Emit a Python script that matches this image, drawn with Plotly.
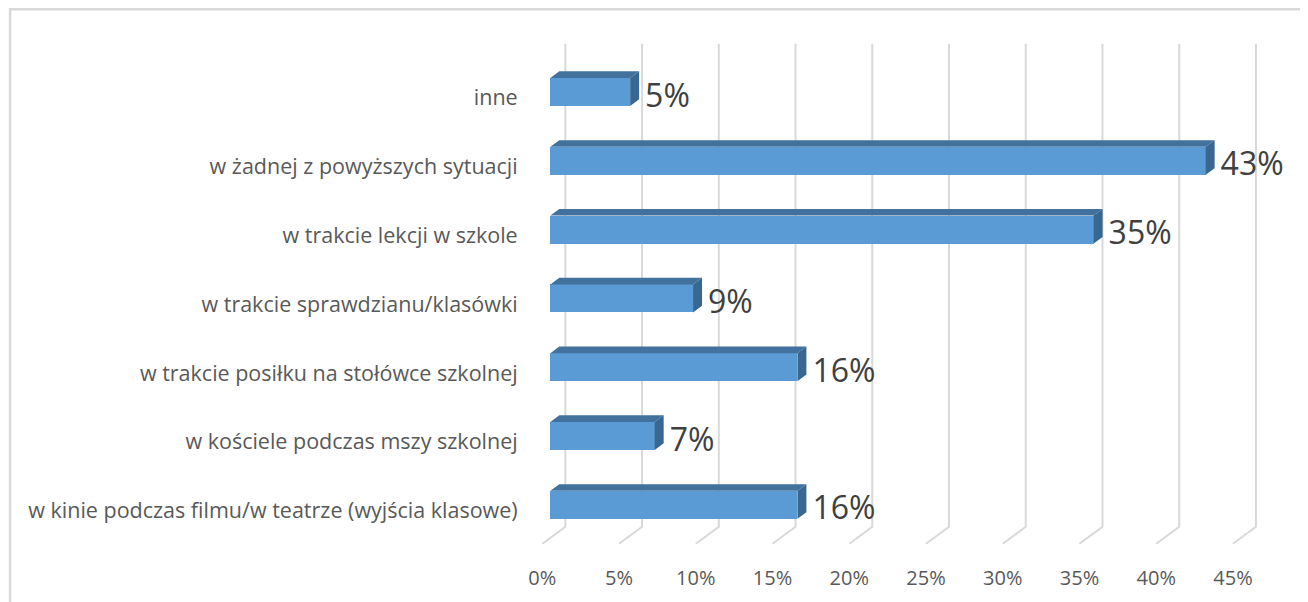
import plotly.graph_objects as go

# ---- data (bottom to top) ----
categories = [
    "w kinie podczas filmu/w teatrze (wyjścia klasowe)",
    "w kościele podczas mszy szkolnej",
    "w trakcie posiłku na stołówce szkolnej",
    "w trakcie sprawdzianu/klasówki",
    "w trakcie lekcji w szkole",
    "w żadnej z powyższych sytuacji",
    "inne",
]
values = [16.1, 6.8, 16.1, 9.3, 35.4, 42.7, 5.2]
labels = ["16%", "7%", "16%", "9%", "35%", "43%", "5%"]
x_ticks = [0, 5, 10, 15, 20, 25, 30, 35, 40, 45]
x_ticktext = ["0%", "5%", "10%", "15%", "20%", "25%", "30%", "35%", "40%", "45%"]

# ---- layout geometry ----
W, H = 1308, 602
OFF = 8              # page offset of the figure inside the browser window
KX = 15.354          # px per percent
KY = 68.8            # px per category
X0_PX = 542 - OFF    # pixel of 0% on the front plane
Y0_PX = 511 - OFF    # pixel of first category on the front plane
X_MIN, X_MAX = -1.0, 48.0
Y_MIN, Y_MAX = -0.6, 6.9
LEFT = X0_PX - (0 - X_MIN) * KX
PLOT_W = (X_MAX - X_MIN) * KX
TOP = Y0_PX - Y_MAX * KY
PLOT_H = (Y_MAX - Y_MIN) * KY

# 3D depth projection (full depth offset)
DX = 23 / KX
DY = 17 / KY
D_FRONT = 0.348
D_BAR = 0.39
BAR_H = 28 / KY
FLOOR = -0.48
CEIL = Y_MAX - 0.113

FRONT_C = "#5B9BD5"
TOP_C = "#41719C"
SIDE_C = "#386792"
GRID_C = "#D9D9D9"

fig = go.Figure()

# gridlines (back wall + slanted floor segment), drawn below traces
for t in x_ticks:
    path = (f"M {t},{FLOOR} L {t + DX},{FLOOR + DY} L {t + DX},{CEIL}")
    fig.add_shape(type="path", xref="x", yref="y", path=path,
                  line=dict(color=GRID_C, width=2), layer="below")

# front faces
y_front = [i + D_FRONT * DY for i in range(len(categories))]
base = D_FRONT * DX
fig.add_trace(go.Bar(y=y_front, x=values, base=base, orientation="h",
                     width=BAR_H, marker=dict(color=FRONT_C, line=dict(width=0)),
                     hoverinfo="skip", showlegend=False))

# top and side faces
tx, ty, sx, sy = [], [], [], []
ddx, ddy = D_BAR * DX, D_BAR * DY
for yc, v in zip(y_front, values):
    x0, x1 = base, base + v
    yt, yb = yc + BAR_H / 2, yc - BAR_H / 2
    tx += [x0, x1, x1 + ddx, x0 + ddx, x0, None]
    ty += [yt, yt, yt + ddy, yt + ddy, yt, None]
    sx += [x1, x1, x1 + ddx, x1 + ddx, x1, None]
    sy += [yb, yt, yt + ddy, yb + ddy, yb, None]
fig.add_trace(go.Scatter(x=tx, y=ty, mode="lines", fill="toself",
                         fillcolor=TOP_C, line=dict(width=0, color=TOP_C),
                         hoverinfo="skip", showlegend=False))
fig.add_trace(go.Scatter(x=sx, y=sy, mode="lines", fill="toself",
                         fillcolor=SIDE_C, line=dict(width=0, color=SIDE_C),
                         hoverinfo="skip", showlegend=False))

# data labels
fig.add_trace(go.Scatter(
    x=[base + v + ddx + 6 / KX for v in values],
    y=[i - 0.01 for i in range(len(categories))],
    mode="text", text=labels, textposition="middle right",
    textfont=dict(family="Open Sans", size=32, color="#404040"),
    cliponaxis=False, hoverinfo="skip", showlegend=False))

# outer frame (chart border)
def px_to_paper_x(px):
    return (px - OFF - LEFT) / PLOT_W

def px_to_paper_y(py):
    return (TOP + PLOT_H - (py - OFF)) / PLOT_H

fig.add_shape(type="rect", xref="paper", yref="paper",
              x0=px_to_paper_x(9.5), x1=px_to_paper_x(1340),
              y0=px_to_paper_y(650), y1=px_to_paper_y(9.5),
              line=dict(color="#D9D9D9", width=2.5), layer="below")

fig.update_layout(
    width=W, height=H, autosize=False,
    margin=dict(l=LEFT, r=W - LEFT - PLOT_W, t=TOP, b=H - TOP - PLOT_H, pad=0),
    plot_bgcolor="white", paper_bgcolor="white",
    bargap=0, showlegend=False,
    font=dict(family="Open Sans", color="#595959"),
    xaxis=dict(range=[X_MIN, X_MAX], tickvals=x_ticks, ticktext=x_ticktext,
               showgrid=False, zeroline=False, showline=False,
               ticks="outside", ticklen=8, tickcolor="rgba(0,0,0,0)",
               tickfont=dict(size=20, color="#595959"), fixedrange=True),
    yaxis=dict(range=[Y_MIN, Y_MAX], tickvals=list(range(len(categories))),
               ticktext=categories, showgrid=False, zeroline=False, showline=False,
               ticks="outside", ticklen=4, tickcolor="rgba(0,0,0,0)",
               tickfont=dict(size=21.5, color="#595959"), fixedrange=True),
)

fig.write_html("out.html")
